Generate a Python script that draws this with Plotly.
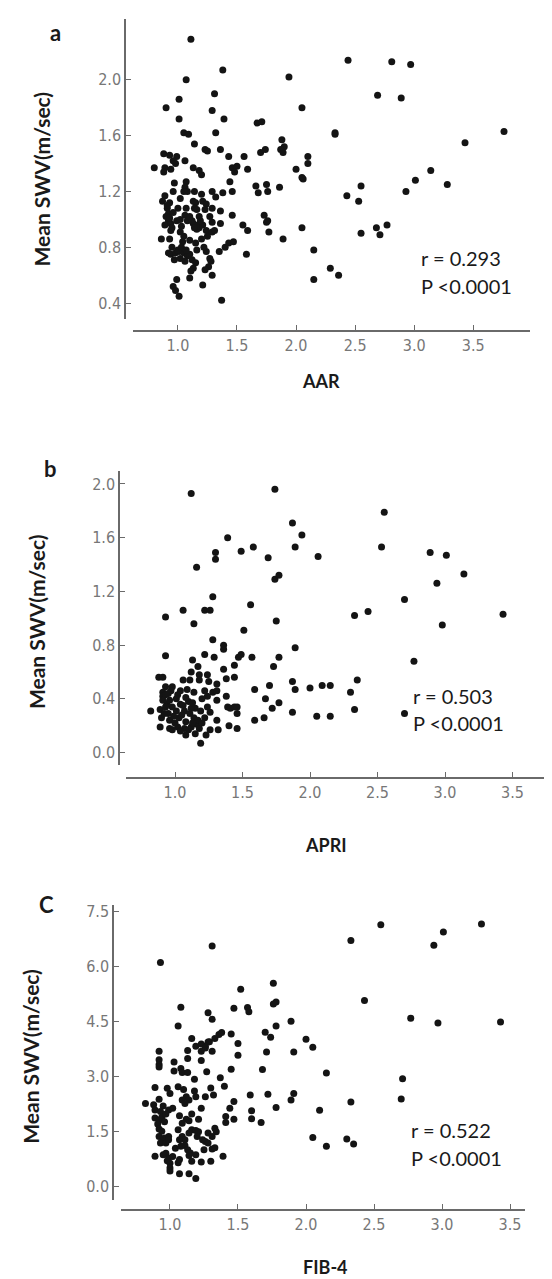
import plotly.graph_objects as go

W, H = 552, 1279

# ---------------- data ----------------
aar_x = [1.11, 1.38, 1.07, 1.94, 1.31, 1.01, 0.90, 1.29, 1.01, 1.39,
         1.67, 1.71, 1.05, 1.09, 1.32, 1.14, 1.23, 1.25, 1.36, 1.88,
         1.90, 1.87, 1.89, 1.70, 1.74, 0.88, 0.93, 0.99, 0.96, 0.98,
         1.06, 1.43, 1.56, 0.80, 0.89, 0.94, 1.13, 1.18, 1.46, 1.50,
         1.59, 2.00, 2.05,
         0.88, 1.20, 1.48, 2.06, 0.97, 1.07, 1.06, 1.08, 1.05, 0.96,
         1.14, 1.29, 1.32, 1.38, 1.46, 1.44, 1.66, 1.68, 1.75, 1.76,
         1.86, 0.89, 0.87, 0.93, 0.91, 0.92, 0.90, 0.92, 0.89, 0.94,
         0.95, 1.00, 1.07, 1.06, 1.08, 1.13, 1.15, 1.14, 1.16, 1.21,
         1.24, 1.23, 1.29, 1.36, 1.13, 1.17, 1.16, 1.18, 1.14, 1.21,
         1.24, 1.29, 1.36, 1.46, 1.55, 1.59, 1.73, 1.75, 1.76, 1.77,
         1.89, 2.05, 0.86, 0.93, 0.94, 1.02, 1.05, 1.04, 1.10, 1.15,
         1.20, 1.25, 1.29, 1.31, 1.24, 1.22, 0.92, 0.94, 0.98, 1.01,
         0.97, 1.02, 1.05, 1.08, 1.10, 1.12, 1.06, 1.15, 1.13, 1.11,
         1.10, 1.27, 1.28, 1.26, 1.23, 1.29, 1.35, 1.40, 1.43, 1.47,
         1.58, 0.99, 1.21, 0.96, 0.98, 1.01, 1.37,
         0.91, 0.93, 0.96, 0.99, 1.02, 1.10, 1.12, 1.18, 1.19, 1.03,
         1.00, 1.03, 1.07, 0.95, 1.16, 1.27, 1.20, 1.02,
         2.44, 2.81, 2.97, 2.69, 2.89, 2.33, 2.33, 3.76, 3.43, 3.14,
         2.05, 2.10, 2.10, 3.01, 3.28, 2.93, 2.55, 2.43, 2.53, 2.68,
         2.71, 2.77, 2.55, 2.15, 2.15, 2.29, 2.36]
aar_y = [2.29, 2.07, 2.00, 2.02, 1.90, 1.86, 1.80, 1.78, 1.72, 1.72,
         1.69, 1.70, 1.62, 1.61, 1.62, 1.54, 1.50, 1.49, 1.50, 1.57,
         1.52, 1.50, 1.48, 1.48, 1.50, 1.47, 1.46, 1.45, 1.42, 1.40,
         1.42, 1.45, 1.45, 1.37, 1.37, 1.36, 1.37, 1.35, 1.37, 1.38,
         1.36, 1.36, 1.80,
         1.34, 1.32, 1.34, 1.29, 1.26, 1.27, 1.23, 1.20, 1.20, 1.20,
         1.20, 1.20, 1.16, 1.19, 1.20, 1.27, 1.24, 1.19, 1.25, 1.20,
         1.23, 1.17, 1.13, 1.12, 1.08, 1.04, 1.02, 0.99, 0.96, 0.97,
         0.94, 1.08, 1.08, 1.03, 0.99, 1.13, 1.12, 1.08, 1.07, 1.13,
         1.11, 1.07, 1.08, 1.06, 0.97, 0.96, 0.93, 0.94, 0.94, 0.96,
         0.92, 0.98, 0.97, 1.03, 0.96, 0.92, 1.03, 0.98, 0.99, 0.91,
         0.86, 0.94, 0.86, 0.86, 0.92, 0.91, 0.88, 0.84, 0.85, 0.83,
         0.86, 0.88, 0.91, 0.92, 0.77, 0.80, 0.76, 0.75, 0.76, 0.77,
         0.71, 0.72, 0.76, 0.74, 0.75, 0.71, 0.70, 0.69, 0.65, 0.63,
         0.58, 0.72, 0.70, 0.66, 0.64, 0.60, 0.77, 0.80, 0.83, 0.84,
         0.75, 0.57, 0.53, 0.52, 0.49, 0.45, 0.42,
         1.10, 1.01, 1.05, 0.99, 1.00, 1.02, 0.99, 1.02, 0.99, 0.95,
         0.78, 0.80, 0.78, 0.80, 0.78, 1.02, 1.18, 1.15,
         2.14, 2.13, 2.11, 1.89, 1.87, 1.62, 1.61, 1.63, 1.55, 1.35,
         1.30, 1.45, 1.40, 1.28, 1.25, 1.20, 1.24, 1.17, 1.13, 0.94,
         0.89, 0.96, 0.90, 0.78, 0.57, 0.65, 0.60]

apri_x = [1.12, 1.74, 1.87, 1.94, 1.39, 1.89, 1.58, 1.49, 1.30, 1.30,
          1.69, 2.06, 1.16, 1.74, 1.77, 1.28, 1.56, 1.06, 1.22, 1.26,
          0.93, 1.75,
          2.55, 2.53, 2.89, 3.01, 3.14, 2.94, 2.70, 2.43, 2.33, 3.43,
          2.98, 2.77, 2.35, 2.30, 2.33, 2.70, 2.15, 2.09, 2.00, 2.05,
          2.15, 1.87, 1.89, 1.87, 1.89,
          1.14, 1.51, 1.28, 1.36, 1.36, 0.93, 1.13, 1.22, 1.29, 1.47,
          1.49, 1.57, 1.77, 1.73, 1.44, 1.36, 1.17, 1.12, 0.88, 0.91,
          1.06, 1.11, 1.18, 1.18, 1.24, 1.25, 1.38, 1.44, 1.31, 1.59,
          1.70, 0.93, 0.91, 0.91, 0.93, 0.98, 0.97, 1.04, 1.09, 1.14,
          1.22, 1.24, 1.28, 1.31, 1.31, 1.38, 1.67, 0.82,
          0.89, 0.90, 0.95, 0.96, 0.98, 1.01, 1.03, 1.04, 1.07, 1.08,
          1.10, 1.11, 1.14, 1.15, 1.16, 1.02, 0.96, 0.98, 1.07, 1.10,
          1.12, 1.17, 1.19, 1.22, 1.24, 1.08, 1.15, 1.18, 0.89, 0.94,
          0.96, 1.01, 0.91, 1.31, 1.39, 1.41, 1.44, 1.46, 1.46, 1.40,
          1.46, 1.32, 1.26, 1.23, 1.19, 1.59, 1.66, 1.72, 1.77,
          0.93, 0.99, 1.05, 1.06, 1.12, 1.13, 1.00, 0.95, 1.02, 1.08,
          1.20, 1.26, 1.04, 1.20, 0.92, 1.13]
apri_y = [1.93, 1.96, 1.71, 1.62, 1.60, 1.53, 1.53, 1.50, 1.49, 1.44,
          1.45, 1.46, 1.38, 1.29, 1.32, 1.16, 1.10, 1.06, 1.06, 1.06,
          1.01, 0.98,
          1.79, 1.53, 1.49, 1.47, 1.33, 1.26, 1.14, 1.05, 1.02, 1.03,
          0.95, 0.68, 0.54, 0.45, 0.32, 0.29, 0.50, 0.50, 0.48, 0.27,
          0.27, 0.53, 0.47, 0.30, 0.78,
          0.96, 0.91, 0.84, 0.80, 0.77, 0.72, 0.69, 0.73, 0.71, 0.71,
          0.73, 0.71, 0.71, 0.64, 0.65, 0.62, 0.64, 0.60, 0.56, 0.56,
          0.54, 0.54, 0.58, 0.54, 0.58, 0.53, 0.55, 0.56, 0.51, 0.47,
          0.50, 0.49, 0.45, 0.42, 0.43, 0.49, 0.46, 0.46, 0.47, 0.45,
          0.46, 0.42, 0.45, 0.46, 0.39, 0.42, 0.40, 0.31,
          0.32, 0.26, 0.29, 0.24, 0.34, 0.31, 0.26, 0.36, 0.31, 0.23,
          0.38, 0.29, 0.26, 0.33, 0.21, 0.19, 0.18, 0.17, 0.18, 0.17,
          0.19, 0.24, 0.31, 0.26, 0.34, 0.13, 0.14, 0.18, 0.19, 0.36,
          0.39, 0.40, 0.39, 0.24, 0.34, 0.33, 0.34, 0.34, 0.29, 0.20,
          0.18, 0.17, 0.17, 0.13, 0.07, 0.24, 0.26, 0.33, 0.37,
          0.34, 0.27, 0.28, 0.35, 0.33, 0.22, 0.22, 0.44, 0.43, 0.41,
          0.40, 0.30, 0.16, 0.22, 0.29, 0.37]

fib4_x = [0.93, 1.31, 1.76, 1.52, 1.08, 1.28, 1.31, 1.47, 1.57, 1.58,
          1.76, 1.78, 1.06, 1.89, 1.78, 1.16, 1.19, 1.26, 1.28, 1.29,
          1.33, 1.36, 1.38, 1.45, 1.50, 1.70, 1.74,
          2.33, 2.55, 2.43, 2.94, 3.01, 3.29, 2.77, 2.97, 3.43, 2.15,
          2.05, 2.70, 2.71, 2.33, 2.10, 2.05, 2.15, 2.30, 2.35, 2.00,
          1.23, 1.26, 1.13, 0.92, 1.23, 1.31, 1.50, 1.71, 1.91, 0.92,
          0.92, 0.92, 1.03, 1.03, 1.08, 1.09, 1.13, 1.13, 1.23, 1.27,
          1.18, 1.45, 1.37, 1.40, 1.68, 0.89, 0.98, 1.00, 1.06, 1.10,
          1.12, 1.14, 1.18, 1.19, 1.30, 1.32, 1.26, 1.59, 1.72, 1.91,
          1.89, 0.92, 0.82, 0.88, 0.89, 0.95, 0.93, 0.99, 1.02, 1.09,
          1.11, 1.23, 1.47, 1.44, 1.60, 1.60, 1.67, 1.78, 1.41, 1.41,
          1.47, 0.89, 0.92, 0.94, 0.96, 0.91, 0.97, 1.07, 1.12, 1.09,
          1.14, 1.21, 1.16, 0.92, 0.94, 0.92, 0.96, 0.95, 0.99, 0.93,
          0.97, 0.99, 1.06, 1.09, 1.11, 1.14, 1.07, 1.11, 1.16, 1.19,
          1.21, 1.20, 1.04, 1.08, 1.13, 1.15, 1.14, 1.19, 1.16, 1.24,
          1.26, 1.25, 1.28, 1.28, 1.33, 1.31, 1.34, 1.23, 1.30, 1.31,
          1.33, 1.39, 0.89, 0.95, 0.97, 0.99, 1.00, 1.00, 1.02, 1.06,
          1.07, 1.07, 1.14, 1.19, 1.00, 0.98]
fib4_y = [6.10, 6.55, 5.53, 5.37, 4.88, 4.73, 4.55, 4.85, 4.87, 4.76,
          4.97, 5.02, 4.37, 4.50, 4.37, 4.03, 3.82, 3.82, 3.93, 3.94,
          4.03, 4.14, 4.19, 4.15, 3.89, 4.20, 4.06,
          6.70, 7.13, 5.06, 6.57, 6.93, 7.15, 4.58, 4.45, 4.48, 3.09,
          3.79, 2.38, 2.93, 2.30, 2.07, 1.33, 1.09, 1.29, 1.15, 4.01,
          3.88, 3.77, 3.70, 3.68, 3.68, 3.68, 3.57, 3.66, 3.66, 3.45,
          3.32, 3.25, 3.39, 3.14, 3.21, 3.10, 3.10, 3.48, 3.43, 3.12,
          2.92, 3.19, 2.96, 2.73, 3.18, 2.69, 2.67, 2.53, 2.71, 2.64,
          2.44, 2.35, 2.60, 2.44, 2.68, 2.49, 2.44, 2.49, 2.51, 2.53,
          2.35, 2.37, 2.26, 2.22, 2.08, 2.19, 2.04, 2.08, 2.13, 2.35,
          2.26, 2.13, 2.31, 2.13, 2.06, 1.84, 1.74, 2.15, 1.90, 1.74,
          1.83, 1.86, 1.81, 1.88, 1.76, 1.70, 1.97, 1.92, 1.83, 1.72,
          1.79, 1.83, 1.97, 1.56, 1.50, 1.36, 1.32, 1.25, 1.36, 1.18,
          1.18, 1.27, 1.54, 1.36, 1.27, 1.45, 1.27, 1.11, 1.54, 1.52,
          1.49, 1.36, 1.04, 1.09, 1.00, 0.91, 0.84, 0.86, 0.68, 1.27,
          1.22, 1.00, 1.18, 1.45, 1.58, 1.36, 1.49, 0.66, 0.68, 1.02,
          1.05, 0.82, 0.82, 0.86, 0.90, 0.77, 0.63, 0.50, 0.81, 0.64,
          0.73, 0.34, 0.34, 0.21, 0.42, 0.70]

x_ticks = [1.0, 1.5, 2.0, 2.5, 3.0, 3.5]
aar_yticks = [0.4, 0.8, 1.2, 1.6, 2.0]
apri_yticks = [0.0, 0.4, 0.8, 1.2, 1.6, 2.0]
fib4_yticks = [0.0, 1.5, 3.0, 4.5, 6.0, 7.5]

panel_letters = ["a", "b", "C"]
x_titles = ["AAR", "APRI", "FIB-4"]
r_texts = ["r = 0.293", "r = 0.503", "r = 0.522"]
p_texts = ["P <0.0001", "P <0.0001", "P <0.0001"]
y_title = "Mean SWV(m/sec)"

# ---------------- layout helpers (pixel -> paper) ----------------
def fx(px):
    return px / W

def fy(py):
    return 1 - py / H

panels = [
    dict(xd=(125, 522), xr=[0.62, 3.98], yd=(7, 308), yr=[0.286, 2.436],
         ylinex=117, xliney=320, yt=aar_yticks, xs=aar_x, ys=aar_y,
         letter=(47, 21), ytitle=(33, 168), xtitle=(313, 370),
         rpos=(411, 247), ppos=(411, 275)),
    dict(xd=(118, 545), xr=[0.637, 3.80], yd=(460, 755), yr=[-0.09, 2.10],
         ylinex=111, xliney=768, yt=apri_yticks, xs=apri_x, ys=apri_y,
         letter=(42, 458), ytitle=(28, 612), xtitle=(318, 836),
         rpos=(403, 686), ppos=(403, 713)),
    dict(xd=(113, 517), xr=[0.64, 3.61], yd=(896, 1192), yr=[-0.38, 7.66],
         ylinex=105, xliney=1202, yt=fib4_yticks, xs=fib4_x, ys=fib4_y,
         letter=(38, 895), ytitle=(23, 1048), xtitle=(317, 1259),
         rpos=(401, 1122), ppos=(401, 1150)),
]

tick_font = dict(family="DejaVu Sans Condensed, Liberation Sans Narrow, sans-serif",
                 size=16, color="#777777")
axis_color = "#6a6a6a"

fig = go.Figure()
annotations = []
for i, p in enumerate(panels):
    n = "" if i == 0 else str(i + 1)
    fig.add_trace(go.Scatter(
        x=p["xs"], y=p["ys"], mode="markers",
        marker=dict(size=7, color="#141414", line=dict(width=0)),
        xaxis="x" + n, yaxis="y" + n, cliponaxis=False, showlegend=False,
        hoverinfo="skip"))
    fig.layout["xaxis" + n] = dict(
        domain=[fx(p["xd"][0]), fx(p["xd"][1])], range=p["xr"],
        anchor="free", position=fy(p["xliney"]),
        showline=True, linecolor=axis_color, linewidth=1.5,
        ticks="inside", ticklen=5, tickwidth=1.3, tickcolor=axis_color,
        tickvals=x_ticks, ticktext=["%.1f" % v for v in x_ticks],
        tickfont=tick_font, showgrid=False, zeroline=False, fixedrange=True)
    fig.layout["yaxis" + n] = dict(
        domain=[fy(p["yd"][1]), fy(p["yd"][0])], range=p["yr"],
        anchor="free", position=fx(p["ylinex"]),
        showline=True, linecolor=axis_color, linewidth=1.5,
        ticks="inside", ticklen=5, tickwidth=1.3, tickcolor=axis_color,
        tickvals=p["yt"], ticktext=["%.1f" % v for v in p["yt"]],
        tickfont=tick_font, showgrid=False, zeroline=False, fixedrange=True)

    annotations.append(dict(
        text=panel_letters[i], x=fx(p["letter"][0]), y=fy(p["letter"][1]),
        xref="paper", yref="paper", showarrow=False,
        xanchor="center", yanchor="middle",
        font=dict(family="Lato, Open Sans, sans-serif", size=22, color="#1a1a1a",
                  weight="bold")))
    annotations.append(dict(
        text=y_title, x=fx(p["ytitle"][0]), y=fy(p["ytitle"][1]),
        xref="paper", yref="paper", showarrow=False, textangle=-90,
        xanchor="center", yanchor="middle",
        font=dict(family="Lato, Open Sans, sans-serif", size=21, color="#1a1a1a",
                  weight="bold")))
    annotations.append(dict(
        text=x_titles[i], x=fx(p["xtitle"][0]), y=fy(p["xtitle"][1]),
        xref="paper", yref="paper", showarrow=False,
        xanchor="center", yanchor="middle",
        font=dict(family="Lato, Open Sans, sans-serif", size=18, color="#1a1a1a",
                  weight="bold")))
    annotations.append(dict(
        text=r_texts[i], x=fx(p["rpos"][0]), y=fy(p["rpos"][1]),
        xref="paper", yref="paper", showarrow=False,
        xanchor="left", yanchor="middle",
        font=dict(family="Lato, Open Sans, sans-serif", size=20, color="#1a1a1a")))
    annotations.append(dict(
        text=p_texts[i], x=fx(p["ppos"][0]), y=fy(p["ppos"][1]),
        xref="paper", yref="paper", showarrow=False,
        xanchor="left", yanchor="middle",
        font=dict(family="Lato, Open Sans, sans-serif", size=20, color="#1a1a1a")))

fig.update_layout(
    width=W, height=H, margin=dict(l=0, r=0, t=0, b=0),
    paper_bgcolor="white", plot_bgcolor="white",
    annotations=annotations, showlegend=False)

fig.write_html("out.html", config={"displayModeBar": False})
